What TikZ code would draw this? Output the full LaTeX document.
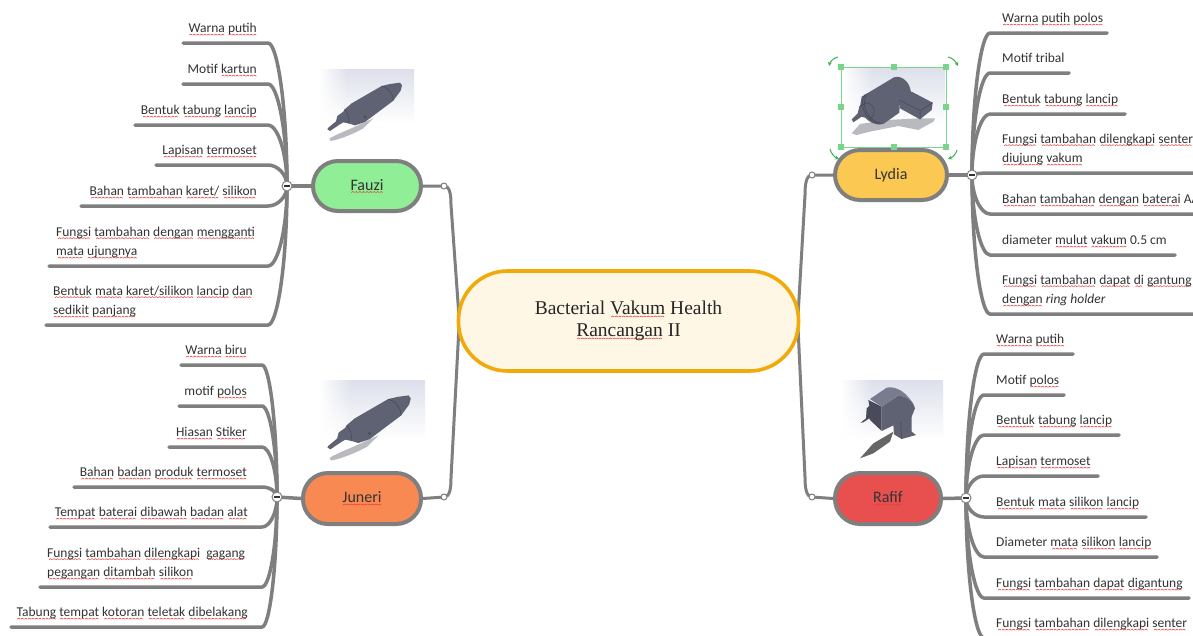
\documentclass[tikz,border=0pt]{standalone}
\usepackage{fontspec}
\setmainfont{Carlito}
\newfontfamily\titlefont{Liberation Serif}
\usetikzlibrary{calc,arrows.meta,fadings}
\definecolor{brgrey}{HTML}{7F7F7F}
\definecolor{inktext}{HTML}{333333}
\definecolor{penbody}{HTML}{5F6273}
\definecolor{pendark}{HTML}{454755}
\definecolor{penlight}{HTML}{797C8E}
\definecolor{shadowgrey}{HTML}{B8BAC0}
\definecolor{imgtop}{HTML}{DDE0EB}
\definecolor{handle}{HTML}{7AD48C}
\definecolor{rotgreen}{HTML}{3DB055}
\definecolor{wavered}{HTML}{E0403C}
\newsavebox\wavebox
\newsavebox\wordbox
\newcommand\sq[1]{\leavevmode\sbox\wordbox{#1}\rlap{\lower2.6pt\hbox to\wd\wordbox{\cleaders\copy\wavebox\hfil}}#1}
\tikzset{
  branch/.style={draw=brgrey,line width=3.5pt,line cap=round},
  mainlink/.style={draw=brgrey,line width=3pt},
  leaf/.style={text=inktext,inner sep=0pt,font=\fontsize{13.5}{19.5}\selectfont,align=left,text depth=3pt},
  person/.style={draw=brgrey,line width=4pt,rounded corners=25pt,inner sep=0pt,text=inktext,font=\fontsize{16}{20}\selectfont},
  hubdot/.style={circle,draw=brgrey,fill=white,line width=1pt,minimum size=10pt,inner sep=0pt},
  joint/.style={circle,draw=brgrey,fill=white,line width=1pt,minimum size=6pt,inner sep=0pt},
  sel/.style={draw=handle,fill=handle,minimum size=5pt,inner sep=0pt},
  rot/.style={draw=rotgreen,line width=1pt,-{Stealth[length=4pt,width=4pt]}}
}
% name, hub, y, x of line end, x of elbow, anchor, x of text, text
\newcommand\leaf[8]{%
  \coordinate (#1e) at (#4,#3);
  \coordinate (#1k) at (#5,#3);
  \node[leaf,anchor=#6] (#1) at (#7,#3-7) {#8};
  \draw[branch] (#2) .. controls ($(#2)!.55!(#2 |- #1k)$) and ($(#1k)!.5!(#2 |- #1k)$) .. (#1k) -- (#1e);
}
% photo background: x0,y0,x1,y1
\newcommand\photo[4]{%
  \shade[top color=imgtop,bottom color=white] (#1,#2) rectangle (#3,{#2+0.72*(#4-#2)});
  \fill[white,path fading=east] (#1,#2) rectangle ({#1+0.3*(#3-#1)},#4);
}
% a pen picture, in coordinates of the 3x crop
\newcommand\penshape{%
  \fill[shadowgrey] (58,236) .. controls (80,222) and (110,212) .. (135,200) -- (190,175) -- (160,205) .. controls (130,222) and (90,238) .. (62,243) -- cycle;
  \fill[penbody] (52,208) -- (55,203) -- (78,184) -- (82,168) -- (100,155) -- (104,148) -- (125,130) -- (215,78) -- (240,72) -- (270,68) -- (276,76) -- (272,92) -- (250,122) -- (165,186) -- (135,196) -- (115,190) -- (100,187) -- (88,194) -- (60,213) -- cycle;
  \draw[pendark,line width=.5pt] (215,78) .. controls (240,85) and (250,105) .. (250,122) (104,148) .. controls (115,160) and (120,180) .. (115,190);
  \draw[pendark,line width=.5pt] (165,170) circle (3);
}
\begin{document}
\sbox\wavebox{\begin{pgfpicture}\pgfsetcolor{wavered}\pgfsetlinewidth{.55pt}\pgfpathmoveto{\pgfpoint{0pt}{0pt}}\pgfpathlineto{\pgfpoint{1.5pt}{1pt}}\pgfpathlineto{\pgfpoint{3pt}{0pt}}\pgfusepath{stroke}\end{pgfpicture}}
\begin{tikzpicture}[x=1pt,y=-1pt]
\useasboundingbox (0,0) rectangle (1193,635);
\fill[white] (0,0) rectangle (1193,635);

% pictures
\photo{319}{69}{414}{144}
\begin{scope}[shift={(310,60)},scale=1/3]\penshape\end{scope}
\photo{319}{380}{425}{463}
\begin{scope}[shift={(308.1,370.1)},scale=1.116/3]\penshape\end{scope}

\photo{842}{68}{945}{147}
\begin{scope}[shift={(820,50)},scale=1/3]
  \fill[shadowgrey] (95,250) -- (120,222) -- (200,210) -- (300,205) -- (345,205) -- (340,215) -- (295,240) -- (235,228) -- (150,245) -- (110,255) -- cycle;
  \fill[penbody] (125,140) -- (222,82) .. controls (245,75) and (270,95) .. (273,128) -- (240,150) -- (238,188) -- (190,222) .. controls (160,230) and (125,205) .. (120,170) -- cycle;
  \fill[penbody] (95,208) -- (113,190) -- (118,170) -- (140,155) -- (165,165) -- (168,195) -- (150,208) -- (125,200) -- (100,217) -- cycle;
  \fill[penbody] (238,150) -- (275,125) -- (338,158) -- (335,180) -- (300,208) -- (240,175) -- cycle;
  \draw[pendark,line width=.5pt] (238,150) -- (300,182) -- (338,158) (300,182) -- (300,208);
  \draw[pendark,line width=.5pt] (135,133) .. controls (115,160) and (135,215) .. (180,222);
  \draw[pendark,line width=.5pt] (142,130) .. controls (120,160) and (140,215) .. (187,220);
  \draw[pendark,line width=.5pt] (118,170) -- (140,158) .. controls (165,165) and (170,190) .. (150,208);
\end{scope}

\photo{841}{380}{943}{463}
\begin{scope}[shift={(830,375)},scale=1/3]
  \fill[black!60] (90,250) -- (130,205) -- (190,170) -- (180,200) -- (130,235) -- cycle;
  \fill[penbody] (190,150) -- (245,120) -- (245,170) -- (258,180) -- (215,192) -- (192,178) -- cycle;
  \fill[pendark!85!penbody] (115,75) -- (155,95) -- (155,168) -- (120,135) -- (118,130) -- (100,142) -- (92,143) -- (108,130) -- (110,100) -- (118,92) -- cycle;
  \fill[penbody] (155,95) -- (205,62) .. controls (230,62) and (252,80) .. (255,100) -- (245,125) -- (155,168) -- cycle;
  \fill[penlight] (120,72) -- (170,38) .. controls (195,32) and (235,50) .. (255,100) .. controls (245,75) and (225,62) .. (205,62) -- (155,95) -- cycle;
  \draw[pendark,line width=.5pt] (215,192) -- (212,140);
\end{scope}

% central node and the persons
\node[minimum width=338pt,minimum height=98pt,inner sep=0pt] (c) at (628.5,321) {};
\node[person,minimum width=108pt,minimum height=50pt,fill={rgb,255:red,144;green,238;blue,150}] (F) at (367,186) {\sq{Fauzi}};
\node[person,minimum width=118pt,minimum height=51pt,fill={rgb,255:red,249;green,137;blue,82}] (J) at (362,498.5) {\sq{Juneri}};
\node[person,minimum width=112pt,minimum height=50pt,fill={rgb,255:red,251;green,201;blue,82}] (L) at (891,175) {Lydia};
\node[person,minimum width=106pt,minimum height=51pt,fill={rgb,255:red,232;green,80;blue,80}] (R) at (888,498.5) {\sq{Rafif}};

% hubs and joints
\coordinate (hF) at (287,186);
\coordinate (hJ) at (277,497);
\coordinate (hL) at (972,175);
\coordinate (hR) at (966,498);
\coordinate (kF) at (444,186);
\coordinate (kJ) at (444,497);
\coordinate (kL) at (812,175);
\coordinate (kR) at (812,497);

% main connectors
\draw[mainlink] (F.east) -- (kF) .. controls (450,186) and (451,195) .. (451,205) -- (c.west);
\draw[mainlink] (J.east) -- (kJ) .. controls (450,497) and (451,488) .. (451,478) -- (c.west);
\draw[mainlink] (L.west) -- (kL) .. controls (806,175) and (805,185) .. (805,195) -- (c.east);
\draw[mainlink] (R.west) -- (kR) .. controls (806,497) and (805,487) .. (805,477) -- (c.east);
\draw[branch] (F.west) -- (hF);
\draw[branch] (J.west) -- (hJ);
\draw[branch] (L.east) -- (hL);
\draw[branch] (R.east) -- (hR);

% Fauzi
\leaf{f1}{hF}{43}{183}{268}{south east}{257}{\sq{Warna} \sq{putih}}
\leaf{f2}{hF}{84}{183}{268}{south east}{257}{Motif \sq{kartun}}
\leaf{f3}{hF}{125}{135}{268}{south east}{257}{\sq{Bentuk} \sq{tabung} \sq{lancip}}
\leaf{f4}{hF}{165}{156}{268}{south east}{257}{\sq{Lapisan} \sq{termoset}}
\leaf{f5}{hF}{206}{81}{268}{south east}{257}{\sq{Bahan} \sq{tambahan} \sq{karet/} \sq{silikon}}
\leaf{f6}{hF}{266}{49}{268}{south west}{56}{\sq{Fungsi} \sq{tambahan} \sq{dengan} \sq{mengganti}\\\sq{mata} \sq{ujungnya}}
\leaf{f7}{hF}{325}{46}{268}{south west}{53}{\sq{Bentuk} \sq{mata} \sq{karet/silikon} \sq{lancip} \sq{dan}\\\sq{sedikit} \sq{panjang}}

% Juneri
\leaf{j1}{hJ}{365}{181}{262}{south east}{247}{\sq{Warna} \sq{biru}}
\leaf{j2}{hJ}{406}{179}{262}{south east}{247}{motif \sq{polos}}
\leaf{j3}{hJ}{447}{169}{262}{south east}{247}{\sq{Hiasan} \sq{Stiker}}
\leaf{j4}{hJ}{487}{74}{262}{south east}{247}{\sq{Bahan} \sq{badan} \sq{produk} \sq{termoset}}
\leaf{j5}{hJ}{527}{50}{262}{south east}{248}{\sq{Tempat} \sq{baterai} \sq{dibawah} \sq{badan} \sq{alat}}
\leaf{j6}{hJ}{587}{40}{262}{south west}{47}{\sq{Fungsi} \sq{tambahan} \sq{dilengkapi}\ \ \sq{gagang}\\\sq{pegangan} \sq{ditambah} \sq{silikon}}
\leaf{j7}{hJ}{627}{11}{262}{south east}{248}{\sq{Tabung} \sq{tempat} \sq{kotoran} \sq{teletak} \sq{dibelakang}}

% Lydia
\leaf{l1}{hL}{33}{1107}{990}{south west}{1002}{\sq{Warna} \sq{putih} \sq{polos}}
\leaf{l2}{hL}{73}{1069}{990}{south west}{1002}{Motif tribal}
\leaf{l3}{hL}{114}{1125}{990}{south west}{1002}{\sq{Bentuk} \sq{tabung} \sq{lancip}}
\leaf{l4}{hL}{173}{1200}{990}{south west}{1002}{\sq{Fungsi} \sq{tambahan} \sq{dilengkapi} \sq{senter}\\\sq{diujung} \sq{vakum}}
\leaf{l5}{hL}{214}{1200}{990}{south west}{1002}{\sq{Bahan} \sq{tambahan} \sq{dengan} \sq{baterai} AA}
\leaf{l6}{hL}{255}{1175}{990}{south west}{1002}{diameter \sq{mulut} \sq{vakum} 0.5 cm}
\leaf{l7}{hL}{314}{1200}{990}{south west}{1002}{\sq{Fungsi} \sq{tambahan} \sq{dapat} \sq{di} \sq{gantung}\\\sq{dengan} \textit{ring holder}}

% Rafif
\leaf{r1}{hR}{354}{1073}{984}{south west}{996}{\sq{Warna} \sq{putih}}
\leaf{r2}{hR}{395}{1064}{984}{south west}{996}{Motif \sq{polos}}
\leaf{r3}{hR}{435}{1119}{984}{south west}{996}{\sq{Bentuk} \sq{tabung} \sq{lancip}}
\leaf{r4}{hR}{476}{1098}{984}{south west}{996}{\sq{Lapisan} \sq{termoset}}
\leaf{r5}{hR}{517}{1146}{984}{south west}{996}{\sq{Bentuk} \sq{mata} \sq{silikon} \sq{lancip}}
\leaf{r6}{hR}{557}{1157}{984}{south west}{996}{Diameter \sq{mata} \sq{silikon} \sq{lancip}}
\leaf{r7}{hR}{598}{1189}{984}{south west}{996}{\sq{Fungsi} \sq{tambahan} \sq{dapat} \sq{digantung}}
\leaf{r8}{hR}{638}{1000}{984}{south west}{996}{\sq{Fungsi} \sq{tambahan} \sq{dilengkapi} \sq{senter}}

% nodes on top of their connectors
\node[hubdot] (dF) at (hF) {};
\node[hubdot] (dJ) at (hJ) {};
\node[hubdot] (dL) at (hL) {};
\node[hubdot] (dR) at (hR) {};
\foreach \h in {hF,hJ,hL,hR} \draw[inktext,line width=1.1pt] ($(\h)+(-3,0)$) -- ($(\h)+(3,0)$);
\node[joint] at (kF) {};
\node[joint] at (kJ) {};
\node[joint] at (kL) {};
\node[joint] at (kR) {};

% central node body
\node[draw={rgb,255:red,240;green,171;blue,10},line width=3.6pt,fill={rgb,255:red,255;green,247;blue,230},rounded corners=49pt,minimum width=340pt,minimum height=100pt,inner sep=0pt,align=center,font=\titlefont\fontsize{19.5}{22}\selectfont,text=black!85] (cc) at (628.5,321) {Bacterial \sq{Vakum} Health\\\sq{Rancangan} II};

% selection frame of the Lydia picture
\draw[handle,line width=1pt] (841,67) rectangle (946,147);
\foreach \p in {(841,67),(893.5,67),(946,67),(841,107),(946,107),(841,147),(893.5,147),(946,147)}
  \node[sel] at \p {};
\draw[rot] (838,57) .. controls (833,58) and (830,62) .. (829,66);
\draw[rot] (948,57) .. controls (953,58) and (956,62) .. (958,66);
\draw[rot] (830,149) .. controls (831,153) and (834,157) .. (839,159);
\draw[rot] (957,150) .. controls (956,154) and (953,157) .. (948,159);
\end{tikzpicture}
\end{document}
